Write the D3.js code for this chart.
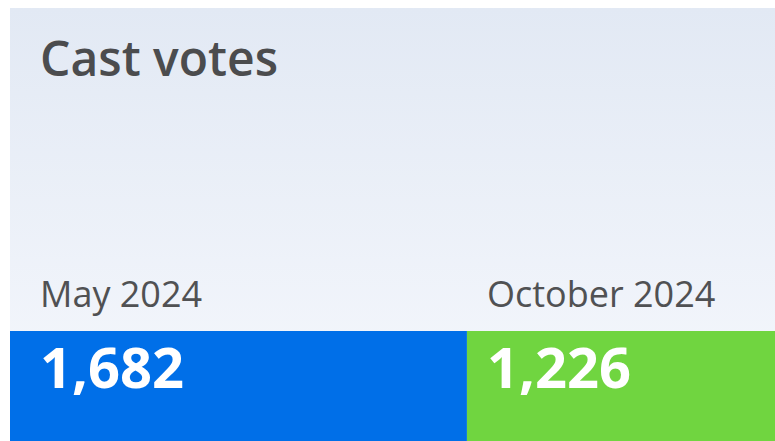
<!DOCTYPE html>
<html>
<head>
<meta charset="utf-8">
<script src="https://cdn.jsdelivr.net/npm/d3@7"></script>
<style>
  html, body { margin: 0; padding: 0; background: #ffffff; overflow: hidden; }
  svg { display: block; font-family: "Open Sans", sans-serif; }
</style>
</head>
<body>
<svg id="chart" width="775" height="441"></svg>
<script>
// Cast votes per election round
const categories = ["May 2024", "October 2024"];
const votes = [1682, 1226];
const barColors = ["#006fe8", "#70d540"];
const title = "Cast votes";

const width = 775, height = 441;
const svg = d3.select("#chart");

// Panel background with a soft vertical gradient
const defs = svg.append("defs");
const grad = defs.append("linearGradient")
  .attr("id", "panelGrad")
  .attr("x1", 0).attr("y1", 0).attr("x2", 0).attr("y2", 1);
grad.append("stop").attr("offset", "0%").attr("stop-color", "#e2e9f4");
grad.append("stop").attr("offset", "75%").attr("stop-color", "#f2f5fb");
grad.append("stop").attr("offset", "100%").attr("stop-color", "#f4f6fb");

const panel = { x: 10, y: 8, w: 790 };
svg.append("rect")
  .attr("x", panel.x).attr("y", panel.y)
  .attr("width", panel.w).attr("height", height - panel.y + 20)
  .attr("fill", "url(#panelGrad)");

// Title
svg.append("text")
  .attr("x", 40).attr("y", 76)
  .attr("fill", "#4b4c4e")
  .attr("font-size", 48).attr("font-weight", 600)
  .text(title);

// Stacked horizontal bar: each segment spans its share of the total
const total = d3.sum(votes);
const x = d3.scaleLinear().domain([0, total]).range([panel.x, panel.x + panel.w]);
const starts = d3.cumsum([0, ...votes]).slice(0, votes.length);
const rows = categories.map((c, i) => ({ c, v: votes[i], s: starts[i], color: barColors[i] }));

const barTop = 331, barH = 130;
const fmt = d3.format(",");

const seg = svg.selectAll("g.seg").data(rows).join("g").attr("class", "seg");

seg.append("rect")
  .attr("x", d => x(d.s))
  .attr("y", barTop)
  .attr("width", d => x(d.s + d.v) - x(d.s))
  .attr("height", barH)
  .attr("fill", d => d.color);

// Text inset from the segment start, kept inside the panel padding
const textX = d => Math.max(x(d.s) + 20, 40);

seg.append("text")
  .attr("x", textX)
  .attr("y", 307)
  .attr("fill", "#505153")
  .attr("font-size", 36)
  .text(d => d.c);

seg.append("text")
  .attr("x", textX)
  .attr("y", 388)
  .attr("fill", "#ffffff")
  .attr("font-size", 56).attr("font-weight", 700)
  .text(d => fmt(d.v));
</script>
</body>
</html>
